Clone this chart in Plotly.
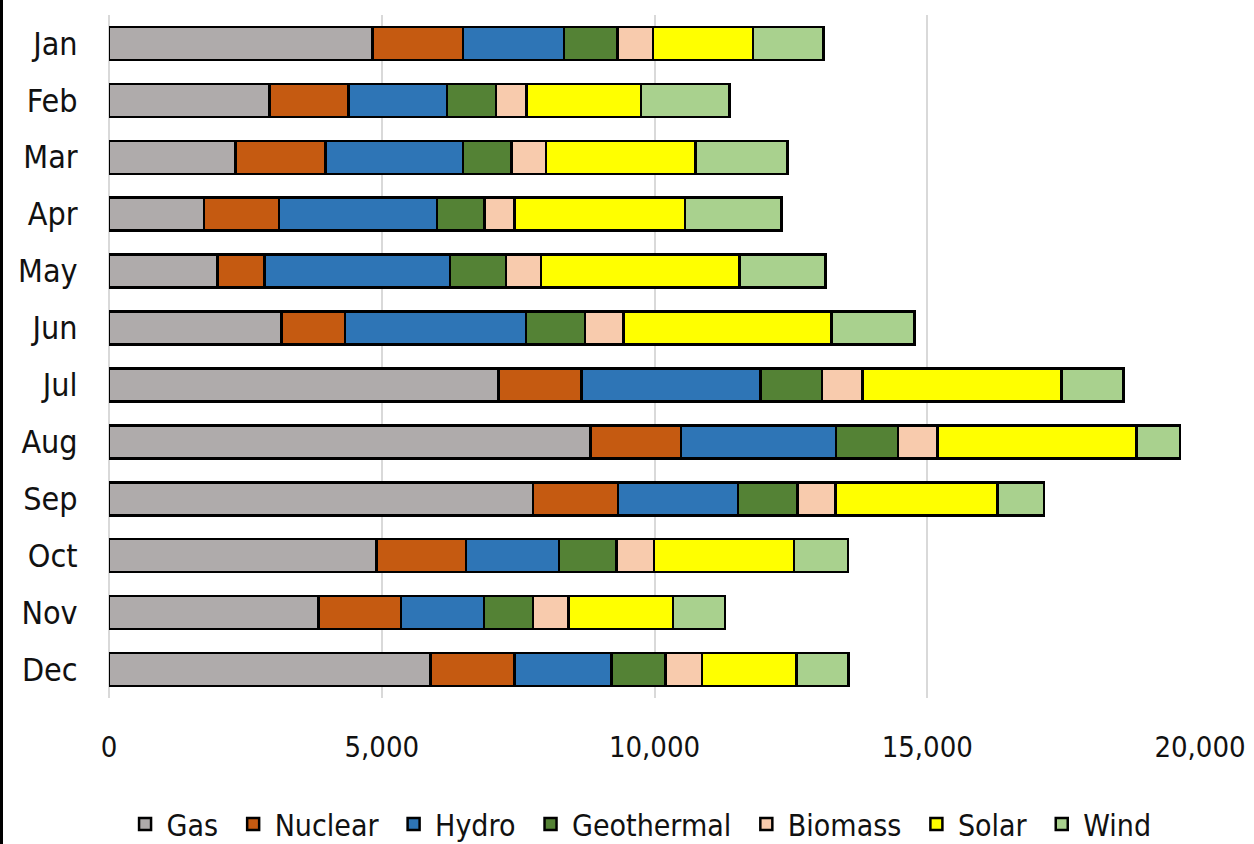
import plotly.graph_objects as go

# Monthly generation by source (stacked horizontally)
months = ["Jan", "Feb", "Mar", "Apr", "May", "Jun",
          "Jul", "Aug", "Sep", "Oct", "Nov", "Dec"]

gas = [4830, 2940, 2320, 1745, 1990, 3165, 7140, 8825, 7770, 4900, 3845, 5895]
nuclear = [1660, 1450, 1645, 1375, 865, 1160, 1525, 1665, 1565, 1640, 1510, 1535]
hydro = [1855, 1810, 2525, 2890, 3400, 3315, 3280, 2835, 2195, 1705, 1520, 1780]
geothermal = [980, 890, 890, 870, 1025, 1085, 1130, 1140, 1090, 1055, 900, 990]
biomass = [650, 560, 630, 555, 635, 705, 735, 720, 695, 695, 645, 675]
solar = [1835, 2105, 2745, 3125, 3645, 3815, 3650, 3655, 2975, 2560, 1920, 1725]
wind = [1285, 1620, 1685, 1765, 1575, 1520, 1140, 795, 850, 995, 950, 960]

series = [
    ("Gas", gas, "#AFABAB"),
    ("Nuclear", nuclear, "#C55A11"),
    ("Hydro", hydro, "#2E75B6"),
    ("Geothermal", geothermal, "#548235"),
    ("Biomass", biomass, "#F8CBAD"),
    ("Solar", solar, "#FFFF00"),
    ("Wind", wind, "#A9D18E"),
]

FONT = "DejaVu Sans Condensed, Liberation Sans Narrow, Arial Narrow, sans-serif"
PAD = "\u00a0"  # extra breathing room between legend entries

fig = go.Figure()
for name, values, color in series:
    fig.add_trace(go.Bar(
        name=name + PAD,
        y=months,
        x=values,
        orientation="h",
        marker=dict(color=color, line=dict(color="#000000", width=2.5)),
        hovertemplate=name + ": %{x:,}<extra>%{y}</extra>",
    ))

W, H = 1254, 844
L, R, T, B = 109, 54, 15, 146
plot_w = W - L - R
plot_h = H - T - B

fig.update_layout(
    width=W, height=H,
    barmode="stack",
    bargap=0.42,
    paper_bgcolor="white",
    plot_bgcolor="white",
    margin=dict(l=L, r=R, t=T, b=B, pad=0, autoexpand=False),
    font=dict(family=FONT, size=32, color="#111111"),
    xaxis=dict(
        range=[0, 20000],
        tickvals=[0, 5000, 10000, 15000, 20000],
        tickformat=",d",
        showgrid=True,
        gridcolor="#D9D9D9",
        gridwidth=2,
        zeroline=True,
        zerolinecolor="#D9D9D9",
        zerolinewidth=2,
        showline=False,
        ticks="outside",
        ticklen=23,
        tickcolor="rgba(0,0,0,0)",
        tickfont=dict(size=29),
        automargin=False,
    ),
    yaxis=dict(
        categoryorder="array",
        categoryarray=months,
        autorange="reversed",
        showgrid=False,
        showline=False,
        ticks="outside",
        ticklen=24,
        tickcolor="rgba(0,0,0,0)",
        tickfont=dict(size=32),
        automargin=False,
    ),
    legend=dict(
        orientation="h",
        traceorder="normal",
        xref="container", yref="container",
        x=0.514, xanchor="center",
        y=1 - 824 / H, yanchor="middle",
        font=dict(size=30),
        itemwidth=33,
        tracegroupgap=0,
    ),
    shapes=[
        dict(type="rect", xref="paper", yref="paper",
             x0=-L / plot_w, x1=-(L - 3) / plot_w,
             y0=-B / plot_h, y1=1 + T / plot_h,
             fillcolor="#000000", line=dict(width=0), layer="above"),
    ],
)

fig.write_html("out.html")
